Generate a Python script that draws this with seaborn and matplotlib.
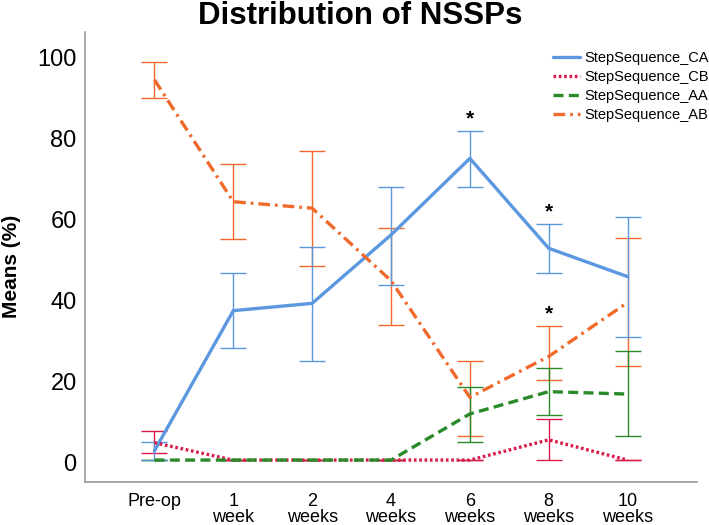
import numpy as np
import pandas as pd
import matplotlib
matplotlib.use("Agg")
import matplotlib.pyplot as plt
import seaborn as sns

# ---- data ----
time_labels = ["Pre-op", "1\nweek", "2\nweeks", "4\nweeks", "6\nweeks", "8\nweeks", "10\nweeks"]
series_names = ["StepSequence_CA", "StepSequence_CB", "StepSequence_AA", "StepSequence_AB"]

ca_mean = [3.0, 37.6, 39.4, 56.3, 75.2, 53.0, 46.0]
ca_low  = [0.8, 28.3, 25.2, 44.0, 68.2, 46.8, 31.0]
ca_high = [5.1, 46.8, 53.4, 68.2, 82.0, 59.0, 60.8]

cb_mean = [5.0, 0.7, 0.7, 0.7, 0.7, 5.7, 0.7]
cb_low  = [2.5, 0.7, 0.7, 0.7, 0.7, 0.7, 0.7]
cb_high = [7.9, 0.7, 0.7, 0.7, 0.7, 10.8, 0.7]

aa_mean = [0.7, 0.7, 0.7, 0.7, 12.1, 17.6, 17.0]
aa_low  = [0.7, 0.7, 0.7, 0.7, 5.1, 11.9, 6.7]
aa_high = [0.7, 0.7, 0.7, 0.7, 18.7, 23.5, 27.7]

ab_mean = [94.6, 64.5, 62.9, 45.0, 16.2, 26.3, 39.6]
ab_low  = [90.0, 55.2, 48.6, 34.1, 6.7, 20.5, 24.0]
ab_high = [99.1, 73.8, 77.0, 58.1, 25.2, 33.9, 55.5]

# significance markers: (time index, series)
sig_points = [(4, "StepSequence_CA"), (5, "StepSequence_CA"), (5, "StepSequence_AB")]

colors = {"StepSequence_CA": "#5b98e0", "StepSequence_CB": "#d81b4a",
          "StepSequence_AA": "#2a8a2a", "StepSequence_AB": "#ef6a2b"}
dashes = {"StepSequence_CA": "", "StepSequence_CB": (0.8, 0.8),
          "StepSequence_AA": (3, 1.6), "StepSequence_AB": (3.5, 1.5, 0.8, 1.5)}

means = dict(zip(series_names, [ca_mean, cb_mean, aa_mean, ab_mean]))
lows = dict(zip(series_names, [ca_low, cb_low, aa_low, ab_low]))
highs = dict(zip(series_names, [ca_high, cb_high, aa_high, ab_high]))

rows = []
for s in series_names:
    for i, m in enumerate(means[s]):
        rows.append({"t": i, "mean": m, "series": s})
df = pd.DataFrame(rows)

sns.set_theme(style="white")
plt.rcParams["font.family"] = ["Liberation Sans", "DejaVu Sans"]
plt.rcParams["text.color"] = "black"
plt.rcParams["axes.labelcolor"] = "black"

fig = plt.figure(figsize=(7.09, 5.25), dpi=100)
ax = fig.add_axes([0.12, 0.082, 0.863, 0.857])

# error bars first (underneath)
order_err = ["StepSequence_AB", "StepSequence_AA", "StepSequence_CB", "StepSequence_CA"]
for s in order_err:
    m = np.array(means[s]); lo = np.array(lows[s]); hi = np.array(highs[s])
    x = np.arange(len(m))
    ax.errorbar(x, m, yerr=[m - lo, hi - m], fmt="none", ecolor=colors[s],
                elinewidth=1.0, capsize=9.5, capthick=1.0, zorder=2)

sns.lineplot(data=df, x="t", y="mean", hue="series", style="series",
             hue_order=series_names, style_order=series_names,
             palette=colors, dashes=dashes, linewidth=2.4, ax=ax,
             legend=True, zorder=3)

for i, s in sig_points:
    ax.text(i, highs[s][i] + 0.6, "*", ha="center", va="bottom",
            fontsize=15, fontweight="bold", color="black")

ax.set_xlim(-0.88, 6.88)
ax.set_ylim(-4.7, 106.4)
ax.set_xticks(range(len(time_labels)))
ax.set_xticklabels(time_labels, fontsize=13, linespacing=0.9)
ax.set_yticks([0, 20, 40, 60, 80, 100])
ax.set_yticklabels(["0", "20", "40", "60", "80", "100"], fontsize=17)
ax.tick_params(axis="both", length=0, colors="black")
ax.tick_params(axis="x", pad=8)
ax.tick_params(axis="y", pad=6)
ax.set_xlabel("")
ax.set_ylabel("Means (%)", fontsize=15, fontweight="bold")
ax.yaxis.set_label_coords(-0.104, 0.48)

for sp in ["top", "right"]:
    ax.spines[sp].set_visible(False)
for sp in ["left", "bottom"]:
    ax.spines[sp].set_color("#9a9a9a")
    ax.spines[sp].set_linewidth(1.2)

leg = ax.legend(loc="upper left", bbox_to_anchor=(553 / 709, 1 - 51 / 525),
                bbox_transform=fig.transFigure, frameon=False,
                fontsize=10.5, handlelength=1.85, handletextpad=0.3,
                labelspacing=0.35, borderaxespad=0.0, borderpad=0.0)
for line in leg.get_lines():
    line.set_linewidth(2.4)

fig.suptitle("Distribution of NSSPs", fontsize=22.5, fontweight="bold",
             x=0.508, y=0.998)

fig.savefig("out.png", dpi=100)
